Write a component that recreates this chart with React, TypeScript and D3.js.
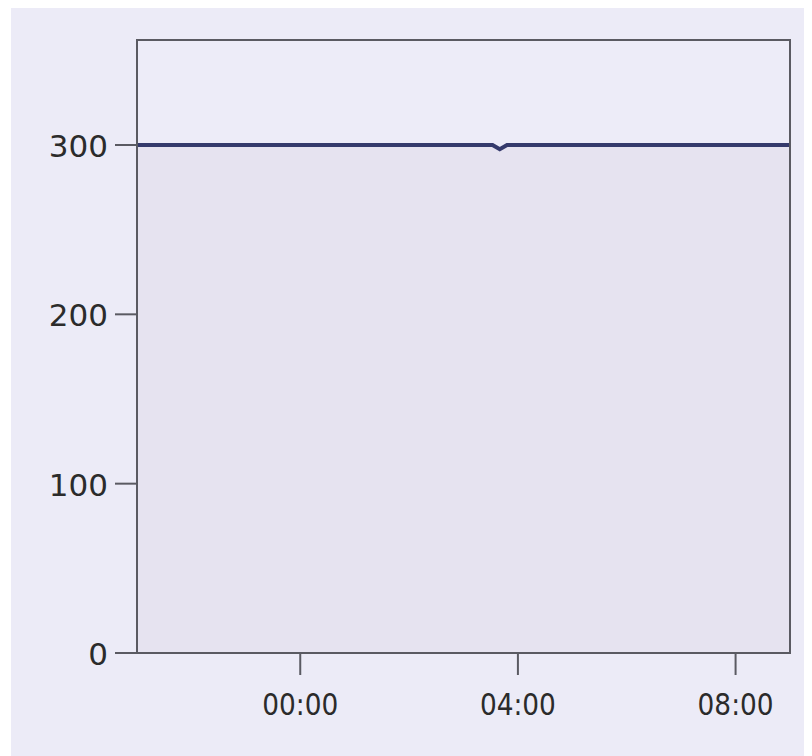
import React from "react";
import * as d3 from "d3";

// Data: timestamps (ISO) and values
const times: string[] = [
  "2024-01-01T21:00", "2024-01-01T22:00", "2024-01-01T23:00", "2024-01-02T00:00",
  "2024-01-02T01:00", "2024-01-02T02:00", "2024-01-02T03:00", "2024-01-02T03:32",
  "2024-01-02T03:40", "2024-01-02T03:48", "2024-01-02T04:00", "2024-01-02T05:00",
  "2024-01-02T06:00", "2024-01-02T07:00", "2024-01-02T08:00", "2024-01-02T09:00",
];
const values: number[] = [300, 300, 300, 300, 300, 300, 300, 300, 297.5, 300, 300, 300, 300, 300, 300, 300];
const xDomain: string[] = ["2024-01-01T21:00", "2024-01-02T09:00"];
const xTicks: string[] = ["2024-01-02T00:00", "2024-01-02T04:00", "2024-01-02T08:00"];
const yTicks: number[] = [0, 100, 200, 300];
const yMax = 362;

const W = 804;
const H = 748;
const M = { left: 129, top: 32, right: 782, bottom: 645 };
const FONT = "'DejaVu Sans', Verdana, sans-serif";

export default function App() {
  const parse = (s: string) => new Date(s);
  const x = d3.scaleTime().domain(xDomain.map(parse)).range([M.left, M.right]);
  const y = d3.scaleLinear().domain([0, yMax]).range([M.bottom, M.top]);
  const data = times.map((t, i) => ({ t: parse(t), v: values[i] }));
  const line = d3.line<{ t: Date; v: number }>().x((d) => x(d.t)).y((d) => y(d.v));
  const area = d3
    .area<{ t: Date; v: number }>()
    .x((d) => x(d.t))
    .y0(y(0))
    .y1((d) => y(d.v));
  const fmt = d3.timeFormat("%H:%M");
  const axisColor = "#5a5a62";

  return (
    <svg width={W} height={H} style={{ display: "block" }}>
      <rect x={3} y={0} width={W - 3} height={H} fill="#ecebf7" />
      <rect x={M.left} y={M.top} width={M.right - M.left} height={M.bottom - M.top} fill="#edecf8" />
      <path d={area(data) || ""} fill="#e6e3f0" />
      <path d={line(data) || ""} fill="none" stroke="#353a6c" strokeWidth={4} />
      {/* frame */}
      <rect
        x={M.left}
        y={M.top}
        width={M.right - M.left}
        height={M.bottom - M.top}
        fill="none"
        stroke={axisColor}
        strokeWidth={2}
      />
      {/* y ticks */}
      {yTicks.map((v) => (
        <g key={v}>
          <line x1={M.left - 22} x2={M.left} y1={y(v)} y2={y(v)} stroke={axisColor} strokeWidth={2} />
          <text
            x={M.left - 29}
            y={y(v) + 1}
            textAnchor="end"
            dominantBaseline="central"
            fontFamily={FONT}
            fontSize={31}
            fill="#2b2b2b"
          >
            {v}
          </text>
        </g>
      ))}
      {/* x ticks */}
      {xTicks.map((s) => {
        const t = parse(s);
        return (
          <g key={s}>
            <line x1={x(t)} x2={x(t)} y1={M.bottom} y2={M.bottom + 22} stroke={axisColor} strokeWidth={2} />
            <text
              x={x(t)}
              y={M.bottom + 62}
              textAnchor="middle"
              fontFamily={FONT}
              fontSize={31}
              textLength={76}
              lengthAdjust="spacingAndGlyphs"
              fill="#2b2b2b"
            >
              {fmt(t)}
            </text>
          </g>
        );
      })}
    </svg>
  );
}
